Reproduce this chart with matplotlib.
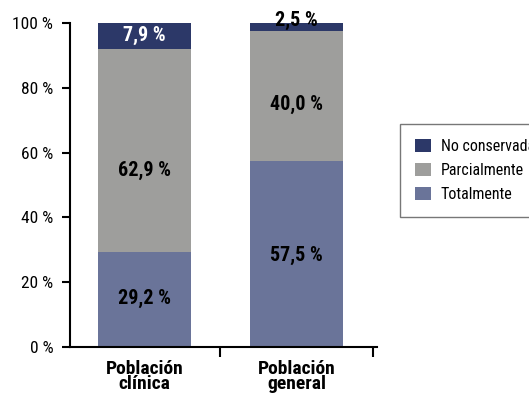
import matplotlib
matplotlib.use("Agg")
import matplotlib.pyplot as plt
import numpy as np

categories = ["Población\nclínica", "Población\ngeneral"]
series_names = ["Totalmente", "Parcialmente", "No conservada"]
totalmente = [29.2, 57.5]
parcialmente = [62.9, 40.0]
no_conservada = [7.9, 2.5]
y_ticks = [0, 20, 40, 60, 80, 100]

colors = ["#6a7499", "#9e9e9c", "#2c3868"]
label_colors = [["black", "black"], ["black", "black"], ["white", "black"]]
# vertical nudges (points) for the value labels, per series and bar
label_nudge = [[1, -1], [-14, -6], [0, 5]]

plt.rcParams["font.family"] = ["Roboto Condensed", "DejaVu Sans"]

fig = plt.figure(figsize=(5.29, 3.98), dpi=100)
ax = fig.add_axes([0.132, 0.128, 0.581, 0.814])

x = np.arange(len(categories))
width = 0.61
bottom = np.zeros(len(categories))
handles = []
for vals, col, name, lcols, nud in zip([totalmente, parcialmente, no_conservada],
                                        colors, series_names, label_colors, label_nudge):
    bars = ax.bar(x, vals, width, bottom=bottom, color=col, label=name)
    handles.append(bars)
    for xi, v, b, lc, n in zip(x, vals, bottom, lcols, nud):
        ax.annotate(f"{v:.1f} %".replace(".", ","), (xi, b + v / 2),
                    xytext=(0, n), textcoords="offset points",
                    ha="center", va="center", fontsize=14.5, fontweight="bold", color=lc)
    bottom += np.array(vals)

ax.set_xlim(-0.49, 1.53)
ax.set_ylim(0, 100)
ax.set_yticks(y_ticks)
ax.set_yticklabels([f"{t} %" for t in y_ticks], fontsize=12.5)
ax.set_xticks([0.5, 1.5])
ax.set_xticklabels([])
ax.set_xticks(x, minor=True)
ax.set_xticklabels(categories, minor=True, fontsize=14, fontweight="bold", linespacing=0.8)
ax.tick_params(axis="x", which="minor", length=0, pad=9)
ax.tick_params(axis="x", which="major", length=7.5, width=1.5, direction="out")
ax.tick_params(axis="y", length=6, width=1.5, direction="out", pad=6)

for s in ["top", "right"]:
    ax.spines[s].set_visible(False)
ax.spines["left"].set_linewidth(1.5)
ax.spines["bottom"].set_linewidth(1.5)

leg = ax.legend(handles=handles[::-1], labels=series_names[::-1],
                loc="upper left", bbox_to_anchor=(0.756, 0.688), bbox_transform=fig.transFigure,
                fontsize=11.5, frameon=True, fancybox=False, edgecolor="#555555",
                handlelength=1.0, handleheight=0.85, handletextpad=0.6,
                borderpad=0.95, labelspacing=0.55, borderaxespad=0)
leg.get_frame().set_linewidth(1.0)

fig.savefig("out.png", dpi=100)
